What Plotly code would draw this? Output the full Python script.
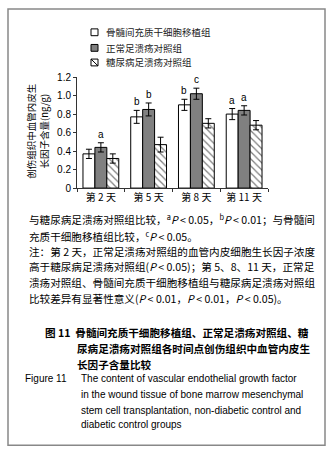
import plotly.graph_objects as go

W, H = 335, 457

days = ["第 2 天", "第 5 天", "第 8 天", "第 11 天"]
groups = ["骨髓间充质干细胞移植组", "正常足溃疡对照组", "糖尿病足溃疡对照组"]
bmsc_vals = [0.37, 0.77, 0.90, 0.80]
bmsc_err = [0.05, 0.07, 0.06, 0.06]
normal_vals = [0.44, 0.85, 1.02, 0.84]
normal_err = [0.05, 0.07, 0.06, 0.05]
diab_vals = [0.32, 0.47, 0.70, 0.68]
diab_err = [0.05, 0.08, 0.05, 0.05]
bmsc_sig = ["", "b", "b", "a"]
normal_sig = ["a", "b", "c", "a"]
y_ticks = [0, 0.2, 0.4, 0.6, 0.8, 1.0, 1.2]
y_tick_text = ["0", "0.2", "0.4", "0.6", "0.8", "1.0", "1.2"]

LAT = "Liberation Sans, Arial, sans-serif"
CJK = "Noto Sans CJK SC, sans-serif"


def px(x):
    return x / W


def py(y):
    return 1 - y / H


fig = go.Figure()
err_style = dict(type="data", thickness=1, width=3, color="black")
fig.add_trace(go.Bar(x=days, y=bmsc_vals, name=groups[0],
                     error_y=dict(array=bmsc_err, **err_style),
                     marker=dict(color="white", line=dict(color="black", width=1))))
fig.add_trace(go.Bar(x=days, y=normal_vals, name=groups[1],
                     error_y=dict(array=normal_err, **err_style),
                     marker=dict(color="#808080", line=dict(color="black", width=1))))
fig.add_trace(go.Bar(x=days, y=diab_vals, name=groups[2],
                     error_y=dict(array=diab_err, **err_style),
                     marker=dict(color="white", line=dict(color="black", width=1),
                                 pattern=dict(shape="\\", fgcolor="black", bgcolor="white",
                                              size=5, solidity=0.25))))

annotations = []
bw = 0.25
for i in range(len(days)):
    if bmsc_sig[i]:
        annotations.append(dict(x=i - bw, y=bmsc_vals[i] + bmsc_err[i], xref="x", yref="y",
                                text=bmsc_sig[i], showarrow=False, xanchor="center",
                                yanchor="bottom", yshift=1,
                                font=dict(family=LAT, size=10, color="black")))
    if normal_sig[i]:
        annotations.append(dict(x=i, y=normal_vals[i] + normal_err[i], xref="x", yref="y",
                                text=normal_sig[i], showarrow=False, xanchor="center",
                                yanchor="bottom", yshift=1,
                                font=dict(family=LAT, size=10, color="black")))

# y axis title (two lines, rotated)
annotations.append(dict(x=px(37), y=py(128), xref="paper", yref="paper",
                        xanchor="center", yanchor="middle",
                        text="创伤组织中血管内皮生<br>长因子含量(ng/g)", textangle=-90,
                        showarrow=False, font=dict(family=CJK, size=9.5, color="black")))

# legend (custom)
shapes = []
leg_y = [27, 43, 58]
for k, g in enumerate(groups):
    x0, x1 = 91, 98
    y0, y1 = leg_y[k] - 3.5, leg_y[k] + 3.5
    fill = "#808080" if k == 1 else "white"
    shapes.append(dict(type="rect", xref="paper", yref="paper", x0=px(x0), x1=px(x1),
                       y0=py(y1), y1=py(y0), line=dict(color="black", width=1), fillcolor=fill))
    if k == 2:
        shapes.append(dict(type="line", xref="paper", yref="paper", x0=px(x0), x1=px(x1),
                           y0=py(y0), y1=py(y1), line=dict(color="black", width=1)))
    annotations.append(dict(x=px(104), y=py(leg_y[k]), xref="paper", yref="paper", text=g,
                            xanchor="left", yanchor="middle", showarrow=False,
                            font=dict(family=CJK, size=9.5, color="#222")))

# border
shapes.append(dict(type="rect", xref="paper", yref="paper", x0=px(8), x1=px(325),
                   y0=py(451), y1=py(3), line=dict(color="#888", width=1.5)))

body = [
    (27, 219, "与糖尿病足溃疡对照组比较，<sup>a</sup><i>P</i> < 0.05，<sup>b</sup><i>P</i> < 0.01；与骨髓间"),
    (27, 236, "充质干细胞移植组比较，<sup>c</sup><i>P</i> < 0.05。"),
    (27, 252, "注：第 2 天，正常足溃疡对照组的血管内皮细胞生长因子浓度"),
    (27, 268, "高于糖尿病足溃疡对照组(<i>P</i> < 0.05)；第 5、8、11 天，正常足"),
    (27, 284, "溃疡对照组、骨髓间充质干细胞移植组与糖尿病足溃疡对照组"),
    (27, 300, "比较差异有显著性意义(<i>P</i> < 0.01，<i>P</i> < 0.01，<i>P</i> < 0.05)。"),
]
for x, y, t in body:
    annotations.append(dict(x=px(x), y=py(y), xref="paper", yref="paper", text=t,
                            xanchor="left", yanchor="middle", showarrow=False,
                            font=dict(family=CJK, size=10.6, color="black")))

caption = [
    (43, 335, "<b>图 11  骨髓间充质干细胞移植组、正常足溃疡对照组、糖</b>"),
    (75, 352, "<b>尿病足溃疡对照组各时间点创伤组织中血管内皮生</b>"),
    (75, 368, "<b>长因子含量比较</b>"),
]
for x, y, t in caption:
    annotations.append(dict(x=px(x), y=py(y), xref="paper", yref="paper", text=t,
                            xanchor="left", yanchor="middle", showarrow=False,
                            font=dict(family=CJK, size=10.6, color="black")))

eng = [
    (23, 383, "Figure 11"),
    (79, 383, "The content of vascular endothelial growth factor"),
    (79, 399, "in the wound tissue of bone marrow mesenchymal"),
    (79, 415, "stem cell transplantation, non-diabetic control and"),
    (79, 430, "diabetic control groups"),
]
for x, y, t in eng:
    annotations.append(dict(x=px(x), y=py(y), xref="paper", yref="paper", text=t,
                            xanchor="left", yanchor="middle", showarrow=False,
                            font=dict(family=LAT, size=10, color="black")))

fig.update_layout(
    width=W, height=H, margin=dict(l=0, r=0, t=0, b=0),
    paper_bgcolor="white", plot_bgcolor="white",
    barmode="group", bargap=0.25, bargroupgap=0,
    showlegend=False,
    font=dict(family=LAT, size=10, color="black"),
    xaxis=dict(domain=[px(77), px(268)], type="category", showline=True, linecolor="#333",
               linewidth=1, ticks="outside", tickson="boundaries", ticklen=3, tickcolor="#333",
               tickfont=dict(family=CJK, size=10, color="black"), showgrid=False, zeroline=False),
    yaxis=dict(domain=[py(187), py(73)], range=[0, 1.2], tickvals=y_ticks, ticktext=y_tick_text,
               showline=True, linecolor="#333", linewidth=1, ticks="outside", ticklen=3,
               tickcolor="#333", tickfont=dict(family=LAT, size=10, color="black"),
               showgrid=False, zeroline=False),
    annotations=annotations, shapes=shapes,
)

fig.write_html("out.html", config={"displayModeBar": False},
               post_script="document.body.style.margin='0';")
